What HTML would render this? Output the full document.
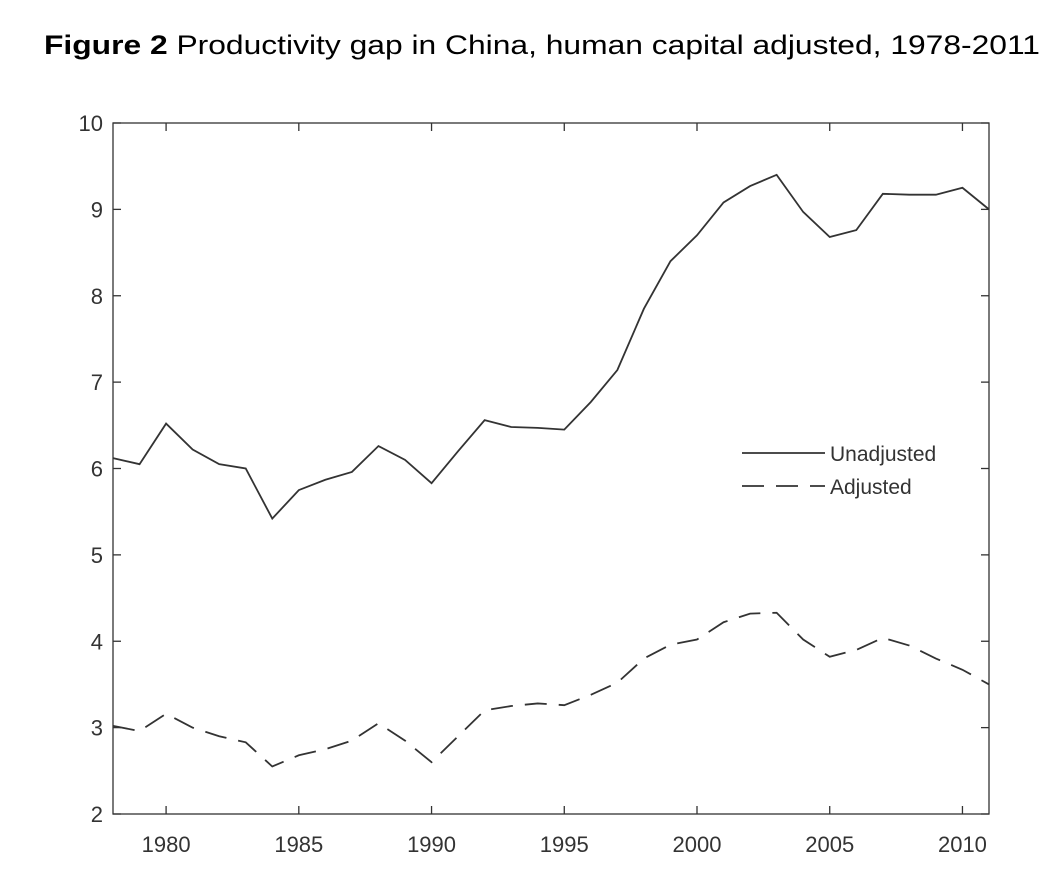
<!DOCTYPE html>
<html><head><meta charset="utf-8"><style>
body{margin:0;background:#fff;width:1048px;height:884px;overflow:hidden;font-family:"Liberation Sans",sans-serif}
</style></head><body>
<svg width="1048" height="884">
<text x="44" y="54" font-size="27" textLength="996" lengthAdjust="spacingAndGlyphs" fill="#000"><tspan font-weight="bold">Figure 2</tspan> Productivity gap in China, human capital adjusted, 1978-2011</text>
<g id="plot"></g>
</svg>
<script>
const years=[];for(let y=1978;y<=2011;y++)years.push(y);
const unadjusted=[6.12,6.05,6.52,6.22,6.05,6.0,5.42,5.75,5.87,5.96,6.26,6.1,5.83,6.2,6.56,6.48,6.47,6.45,6.77,7.14,7.85,8.4,8.7,9.08,9.27,9.4,8.97,8.68,8.76,9.18,9.17,9.17,9.25,9.0];
const adjusted=[3.02,2.96,3.16,3.0,2.9,2.83,2.55,2.68,2.75,2.85,3.05,2.85,2.6,2.9,3.2,3.25,3.28,3.26,3.38,3.52,3.8,3.96,4.02,4.22,4.32,4.33,4.02,3.82,3.9,4.04,3.95,3.8,3.67,3.5];
const yTicks=[2,3,4,5,6,7,8,9,10];
const xTicks=[1980,1985,1990,1995,2000,2005,2010];
const L=113,R=989,T=123,B=814;
const X=v=>L+(v-1978)/(2011-1978)*(R-L);
const Y=v=>B-(v-2)/(10-2)*(B-T);
const NS="http://www.w3.org/2000/svg";
const g=document.getElementById('plot');
function mk(t,a){const e=document.createElementNS(NS,t);for(const k in a)e.setAttribute(k,a[k]);g.appendChild(e);return e;}
const c='#333';
const frame=mk('rect',{x:L,y:T,width:R-L,height:B-T,fill:'none',stroke:c,'stroke-width':1.3});


yTicks.forEach(v=>{
 mk('line',{x1:L,x2:L+8,y1:Y(v),y2:Y(v),stroke:c,'stroke-width':1.3});
 mk('line',{x1:R,x2:R-8,y1:Y(v),y2:Y(v),stroke:c,'stroke-width':1.3});
 const t=mk('text',{x:L-10,y:Y(v)+8,'font-size':22,'text-anchor':'end',fill:'#333'});t.textContent=v;
 
 
});
xTicks.forEach(v=>{
 mk('line',{x1:X(v),x2:X(v),y1:B,y2:B-8,stroke:c,'stroke-width':1.3});
 mk('line',{x1:X(v),x2:X(v),y1:T,y2:T+8,stroke:c,'stroke-width':1.3});
 const t=mk('text',{x:X(v),y:B+38,'font-size':22,'text-anchor':'middle',fill:'#333'});t.textContent=v;
 
 
});
function line(vals,dash,name){
 const p=mk('polyline',{points:vals.map((v,i)=>X(years[i])+','+Y(v)).join(' '),fill:'none',stroke:c,'stroke-width':1.8,'stroke-dasharray':dash});
 
 
}
line(unadjusted,'none','unadjusted-line');
line(adjusted,'22,12','adjusted-line');
const l1=mk('line',{x1:742,x2:825,y1:453,y2:453,stroke:c,'stroke-width':1.8});


const l2=mk('line',{x1:742,x2:825,y1:486,y2:486,stroke:c,'stroke-width':1.8,'stroke-dasharray':'22,12'});


const t1=mk('text',{x:830,y:461,'font-size':21,fill:'#333'});t1.textContent='Unadjusted';


const t2=mk('text',{x:830,y:494,'font-size':21,fill:'#333'});t2.textContent='Adjusted';


</script>
</body></html>
